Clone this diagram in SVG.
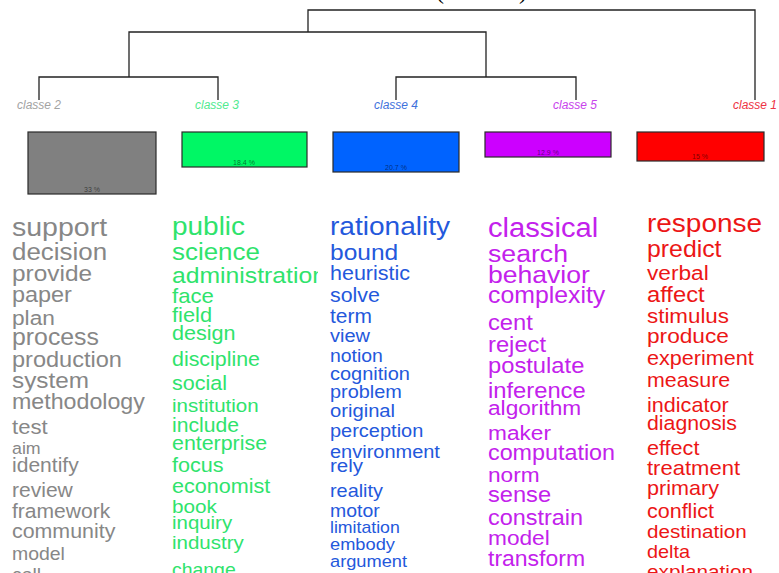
<svg xmlns="http://www.w3.org/2000/svg" width="779" height="573" viewBox="0 0 779 573">
<style>
text{font-family:"Liberation Sans",Arial,sans-serif}
.lbl{font-size:12px;font-style:italic;text-anchor:middle}
.pct{font-size:7px;text-anchor:middle;fill:#000;fill-opacity:0.55}
.bar{stroke:#2a2a2a;stroke-width:1.2}
.dend{fill:none;stroke:#222;stroke-width:1.3}
.title{font-family:"Liberation Serif","Times New Roman",serif;font-size:24px;fill:#000}
.c2{fill:#878787}.c3{fill:#2fe36c}.c4{fill:#2458dc}.c5{fill:#c321ec}.c1{fill:#ec1616}
</style>
<defs>
<clipPath id="clipG" clipPathUnits="userSpaceOnUse"><rect x="0" y="200" width="318" height="373"/></clipPath>
</defs>
<rect width="779" height="573" fill="#fff"/>
<text class="title" x="436" y="-1">(</text>
<text class="title" x="519" y="-1">)</text>
<g id="connectors">
<path class="dend" d="M308 32V10H755V100"/>
<path class="dend" d="M129 77V32H486V77"/>
<path class="dend" d="M39 100V77H218V100"/>
<path class="dend" d="M396 100V77H576V100"/>
</g>
<g id="classe2">
<text class="lbl" x="39" y="109" fill="#a3a3a3">classe  2</text>
<rect class="bar" x="28" y="132" width="128" height="62" fill="#808080"/>
<text class="pct" x="92" y="192">33 %</text>
<g class="c2" transform="translate(12 0) scale(1.08 1)">
<text y="236" font-size="26.4">support</text>
<text y="260" font-size="24">decision</text>
<text y="281" font-size="22.6">provide</text>
<text y="302" font-size="21.7">paper</text>
<text y="325" font-size="21">plan</text>
<text y="345" font-size="23">process</text>
<text y="367" font-size="21.8">production</text>
<text y="388" font-size="22.5">system</text>
<text y="409" font-size="21.5">methodology</text>
<text y="434" font-size="20.5">test</text>
<text y="454" font-size="16.5">aim</text>
<text y="472" font-size="19.5">identify</text>
<text y="497" font-size="19.5">review</text>
<text y="518" font-size="19.5">framework</text>
<text y="538" font-size="19.8">community</text>
<text y="560" font-size="18">model</text>
<text y="581" font-size="18">call</text>
</g>
</g>
<g id="classe3">
<text class="lbl" x="217" y="109" fill="#52ea8f">classe  3</text>
<rect class="bar" x="182" y="132" width="125" height="35" fill="#00f765"/>
<text class="pct" x="244" y="165">18.4 %</text>
<g clip-path="url(#clipG)">
<g class="c3" transform="translate(172 0) scale(1.08 1)">
<text y="235" font-size="25.9">public</text>
<text y="260" font-size="24">science</text>
<text y="283" font-size="22.9">administration</text>
<text y="303" font-size="20.5">face</text>
<text y="322" font-size="20.2">field</text>
<text y="340" font-size="20">design</text>
<text y="366" font-size="19.8">discipline</text>
<text y="390" font-size="19.9">social</text>
<text y="412" font-size="19">institution</text>
<text y="432" font-size="19.6">include</text>
<text y="450" font-size="19.8">enterprise</text>
<text y="472" font-size="20">focus</text>
<text y="493" font-size="20">economist</text>
<text y="513" font-size="19.2">book</text>
<text y="529" font-size="18.9">inquiry</text>
<text y="549" font-size="19">industry</text>
<text y="576" font-size="18">change</text>
</g>
</g>
</g>
<g id="classe4">
<text class="lbl" x="396" y="109" fill="#3f72dc">classe  4</text>
<rect class="bar" x="333" y="132" width="126" height="40" fill="#0063ff"/>
<text class="pct" x="396" y="170">20.7 %</text>
<g class="c4" transform="translate(330 0) scale(1.08 1)">
<text y="235" font-size="26">rationality</text>
<text y="260" font-size="22.7">bound</text>
<text y="280" font-size="19.9">heuristic</text>
<text y="302" font-size="19.8">solve</text>
<text y="323" font-size="19.4">term</text>
<text y="342" font-size="18.5">view</text>
<text y="362" font-size="18">notion</text>
<text y="380" font-size="18.5">cognition</text>
<text y="398" font-size="18.4">problem</text>
<text y="417" font-size="18.7">original</text>
<text y="437" font-size="18.5">perception</text>
<text y="458" font-size="18.5">environment</text>
<text y="472" font-size="19">rely</text>
<text y="497" font-size="18.4">reality</text>
<text y="517" font-size="18">motor</text>
<text y="533" font-size="16.4">limitation</text>
<text y="550" font-size="16.9">embody</text>
<text y="567" font-size="16.9">argument</text>
</g>
</g>
<g id="classe5">
<text class="lbl" x="575" y="109" fill="#c843ec">classe  5</text>
<rect class="bar" x="485" y="132" width="126" height="25" fill="#cc00ff"/>
<text class="pct" x="548" y="155">12.9 %</text>
<g class="c5" transform="translate(488 0) scale(1.08 1)">
<text y="237" font-size="27">classical</text>
<text y="262" font-size="24.7">search</text>
<text y="283" font-size="24.6">behavior</text>
<text y="303" font-size="23">complexity</text>
<text y="330" font-size="22">cent</text>
<text y="352" font-size="22">reject</text>
<text y="373" font-size="22">postulate</text>
<text y="398" font-size="22">inference</text>
<text y="415" font-size="21">algorithm</text>
<text y="440" font-size="21">maker</text>
<text y="460" font-size="21.6">computation</text>
<text y="482" font-size="21">norm</text>
<text y="502" font-size="21.9">sense</text>
<text y="525" font-size="21.7">constrain</text>
<text y="545" font-size="21">model</text>
<text y="566" font-size="21.3">transform</text>
</g>
</g>
<g id="classe1">
<text class="lbl" x="755" y="109" fill="#ee3344">classe  1</text>
<rect class="bar" x="637" y="132" width="127" height="29" fill="#ff0000"/>
<text class="pct" x="700" y="159">15 %</text>
<g class="c1" transform="translate(647 0) scale(1.08 1)">
<text y="232" font-size="25.9">response</text>
<text y="257" font-size="23">predict</text>
<text y="280" font-size="21">verbal</text>
<text y="302" font-size="22">affect</text>
<text y="323" font-size="20.7">stimulus</text>
<text y="343" font-size="21">produce</text>
<text y="365" font-size="20">experiment</text>
<text y="387" font-size="19.8">measure</text>
<text y="412" font-size="20">indicator</text>
<text y="430" font-size="19.7">diagnosis</text>
<text y="455" font-size="20">effect</text>
<text y="475" font-size="20.4">treatment</text>
<text y="495" font-size="20">primary</text>
<text y="518" font-size="19.9">conflict</text>
<text y="538" font-size="19.1">destination</text>
<text y="558" font-size="18.4">delta</text>
<text y="578" font-size="19.2">explanation</text>
</g>
</g>
</svg>
